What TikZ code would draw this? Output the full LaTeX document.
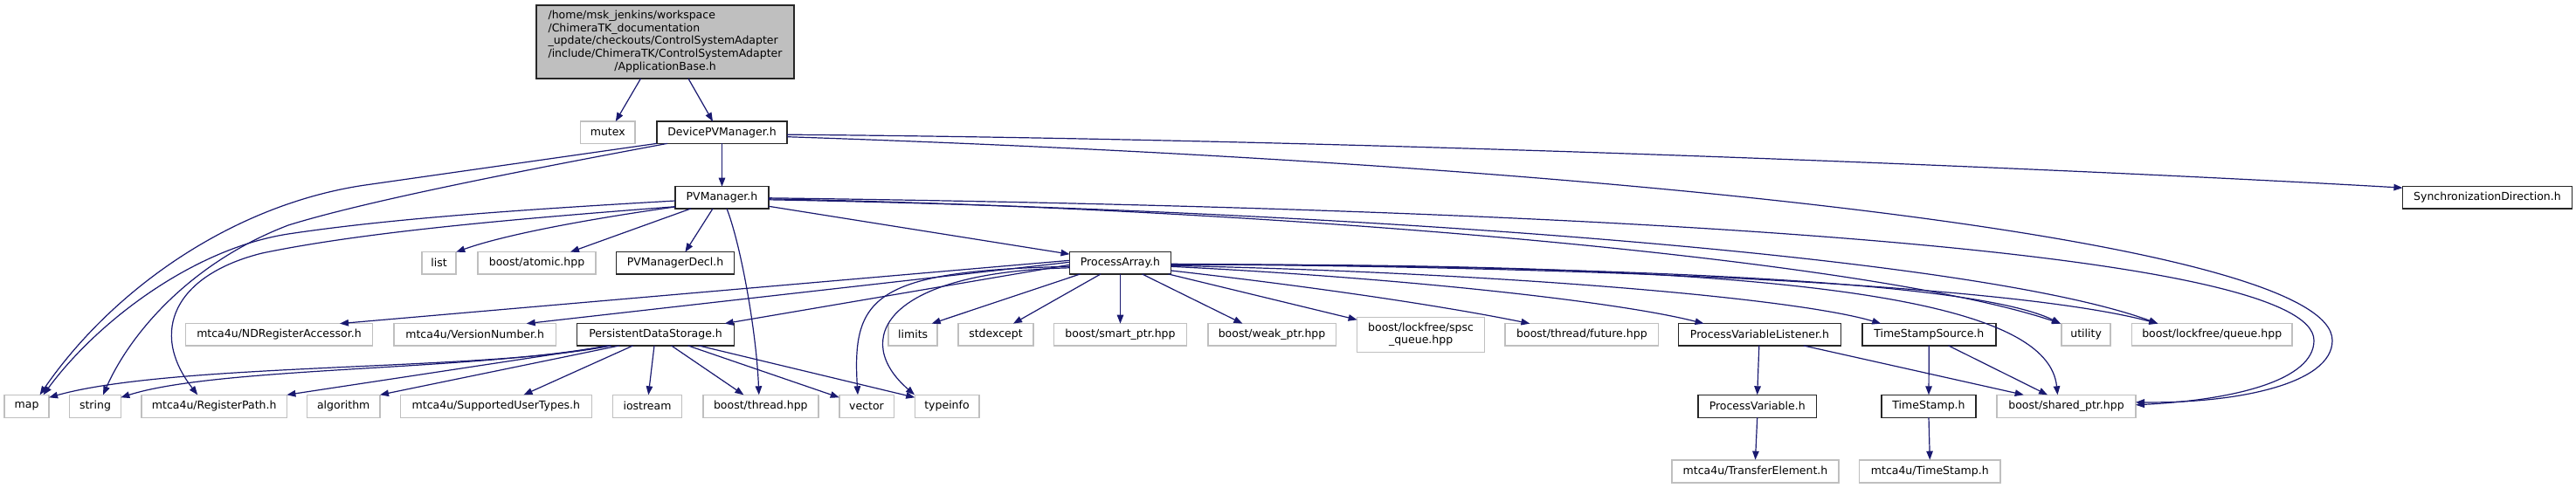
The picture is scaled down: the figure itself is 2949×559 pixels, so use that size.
\documentclass[tikz,border=0pt]{standalone}
\usepackage{fontspec}
\setmainfont{DejaVu Sans}
\usetikzlibrary{arrows.meta}
\definecolor{edgeblue}{HTML}{191970}
\definecolor{graybd}{HTML}{BFBFBF}
\definecolor{mainfill}{HTML}{BFBFBF}
\tikzset{
  every node/.style={font=\fontsize{12.5}{14.8}\selectfont},
  gbox/.style={draw=graybd, line width=1.6pt, fill=white, inner sep=0pt, outer sep=0pt, rectangle},
  bbox/.style={draw=black!85, line width=1.5pt, fill=white, inner sep=0pt, outer sep=0pt, rectangle},
  mainbox/.style={draw=black!85, line width=1.5pt, fill=mainfill, inner sep=0pt, outer sep=0pt, rectangle},
  hA/.style={minimum height=25.3pt},
  hB/.style={minimum height=26pt},
  conn/.style={draw=edgeblue, line width=1.2pt, -{Triangle[length=10pt,width=7.5pt]}},
}
\begin{document}
\begin{tikzpicture}[x=1pt,y=-1pt]
\fill[white] (0,0) rectangle (2949,559);
\useasboundingbox (0,0) rectangle (2949,559);

% ---------- nodes ----------
\node[mainbox, minimum width=295pt, minimum height=84pt] (main) at (761.5,48)
  {\begin{tabular}{@{}l@{}}/home/msk\_jenkins/workspace\\/ChimeraTK\_documentation\\\_update/checkouts/ControlSystemAdapter\\/include/ChimeraTK/ControlSystemAdapter\\\multicolumn{1}{@{}c@{}}{/ApplicationBase.h}\end{tabular}};

\node[gbox, hA, minimum width=62.5pt] (mutex) at (695.8,151.7) {mutex};
\node[bbox, hA, minimum width=149pt] (dpv) at (826.5,151.7) {DevicePVManager.h};
\node[bbox, hA, minimum width=107pt] (pvm) at (826.5,226.3) {PVManager.h};
\node[bbox, hA, minimum width=194pt] (sync) at (2847.4,226.3) {SynchronizationDirection.h};

\node[gbox, hA, minimum width=39.5pt] (list) at (502.5,301.3) {list};
\node[gbox, hA, minimum width=134.6pt] (atomic) at (614.5,301.3) {boost/atomic.hpp};
\node[bbox, hA, minimum width=135.2pt] (pvmdecl) at (773,301.3) {PVManagerDecl.h};
\node[bbox, hA, minimum width=116pt] (pa) at (1282.5,301.3) {ProcessArray.h};

\node[gbox, hA, minimum width=214.3pt] (nda) at (319.5,383.3) {mtca4u/NDRegisterAccessor.h};
\node[gbox, hA, minimum width=185.6pt] (vnum) at (543.7,383.3) {mtca4u/VersionNumber.h};
\node[bbox, hA, minimum width=180pt] (pds) at (750.6,383.3) {PersistentDataStorage.h};
\node[gbox, hA, minimum width=56pt] (limits) at (1045.2,383.3) {limits};
\node[gbox, hA, minimum width=86pt] (stdexcept) at (1140,383.3) {stdexcept};
\node[gbox, hA, minimum width=151.8pt] (smartptr) at (1282.5,383.3) {boost/smart\_ptr.hpp};
\node[gbox, hA, minimum width=146.6pt] (weakptr) at (1456,383.3) {boost/weak\_ptr.hpp};
\node[gbox, minimum height=40pt, minimum width=146pt, align=center] (spsc) at (1626.6,383.3) {boost/lockfree/spsc\\\_queue.hpp};
\node[gbox, hA, minimum width=175.4pt] (future) at (1810.9,383.3) {boost/thread/future.hpp};
\node[bbox, hA, minimum width=186pt] (pvl) at (2014.5,383.3) {ProcessVariableListener.h};
\node[bbox, hA, minimum width=153pt] (tss) at (2208.3,383.3) {TimeStampSource.h};
\node[gbox, hA, minimum width=56.2pt] (utility) at (2388.1,383.3) {utility};
\node[gbox, hA, minimum width=183.7pt] (lfqueue) at (2532.2,383.3) {boost/lockfree/queue.hpp};

\node[gbox, hB, minimum width=51pt] (map) at (30.6,465.3) {map};
\node[gbox, hB, minimum width=58.7pt] (string) at (109,465.3) {string};
\node[gbox, hB, minimum width=166.4pt] (regpath) at (245.2,465.3) {mtca4u/RegisterPath.h};
\node[gbox, hB, minimum width=83.6pt] (algorithm) at (393.2,465.3) {algorithm};
\node[gbox, hB, minimum width=218.8pt] (sut) at (567.9,465.3) {mtca4u/SupportedUserTypes.h};
\node[gbox, hB, minimum width=79pt] (iostream) at (741,465.3) {iostream};
\node[gbox, hB, minimum width=132pt] (thread) at (870.8,465.3) {boost/thread.hpp};
\node[gbox, hB, minimum width=62.6pt] (vector) at (992,465.3) {vector};
\node[gbox, hB, minimum width=73.4pt] (typeinfo) at (1084,465.3) {typeinfo};
\node[bbox, hB, minimum width=135.6pt] (pv) at (2011.7,465.3) {ProcessVariable.h};
\node[bbox, hB, minimum width=108pt] (ts) at (2208,465.3) {TimeStamp.h};
\node[gbox, hB, minimum width=159pt] (sharedptr) at (2365.5,465.3) {boost/shared\_ptr.hpp};

\node[gbox, hB, minimum width=191pt] (transfer) at (2009.5,539.7) {mtca4u/TransferElement.h};
\node[gbox, hB, minimum width=161.4pt] (mts) at (2209.3,539.7) {mtca4u/TimeStamp.h};

% ---------- edges ----------
\draw[conn] ([xshift=-28pt]main.south) -- ([xshift=9pt]mutex.north);
\draw[conn] ([xshift=26.5pt]main.south) -- ([xshift=-10.5pt]dpv.north);

% DevicePVManager.h
\draw[conn] (dpv.south) -- (pvm.north);
\draw[conn] (dpv.south west) -- (418,212) .. controls (268,234) and (130,330) .. ([xshift=15pt]map.north);
\draw[conn] ([xshift=12pt]dpv.south west) .. controls (600,195) and (420,230) .. (330,258) .. controls (220,300) and (150,380) .. ([xshift=9pt]string.north);
\draw[conn] ([yshift=-2.5pt]dpv.east) .. controls (1600,160) and (2400,195) .. ([yshift=-1.5pt]sync.north west);
\draw[conn] ([yshift=-5pt]dpv.east) .. controls (1900,190) and (2670,280) .. (2670,390) .. controls (2670,440) and (2560,462) .. ([yshift=4.5pt]sharedptr.east);

% PVManager.h
\draw[conn] ([yshift=-3.7pt]pvm.west) .. controls (600,240) and (450,250) .. (330,268) .. controls (220,285) and (110,370) .. ([xshift=19pt]map.north);
\draw[conn] ([yshift=-10.4pt]pvm.west) .. controls (600,250) and (420,265) .. (300,290) .. controls (200,315) and (170,380) .. ([xshift=-19pt]regpath.north);
\draw[conn] ([yshift=2pt]pvm.south west) .. controls (680,250) and (580,268) .. (list.north east);
\draw[conn] ([xshift=-35.5pt]pvm.south) -- ([xshift=38.5pt]atomic.north);
\draw[conn] ([xshift=-10.5pt]pvm.south) -- ([xshift=11.4pt]pvmdecl.north);
\draw[conn] ([xshift=5.5pt]pvm.south) .. controls (848,280) and (866,380) .. ([xshift=-2pt]thread.north);
\draw[conn] ([yshift=-10pt]pvm.east) -- ([yshift=-2.5pt]pa.north west);
\draw[conn] ([yshift=-1.5pt]pvm.east) .. controls (1500,240) and (2150,300) .. ([xshift=-1pt]utility.north west);
\draw[conn] ([yshift=-2.5pt]pvm.east) .. controls (1500,240) and (2250,290) .. ([xshift=30pt]lfqueue.north west);
\draw[conn] ([yshift=-0.5pt]pvm.east) .. controls (1900,240) and (2649,290) .. (2649,390) .. controls (2649,435) and (2560,458) .. ([yshift=1.5pt]sharedptr.east);

% ProcessArray.h
\draw[conn] ([yshift=3pt]pa.west) -- ([xshift=69.5pt]nda.north);
\draw[conn] ([yshift=1pt]pa.west) -- ([xshift=59pt]vnum.north);
\draw[conn] ([yshift=-2pt]pa.west) -- ([xshift=-11pt]pds.north east);
\draw[conn] ([yshift=-4pt]pa.west) .. controls (1000,310) and (975,340) .. ([xshift=-10pt]vector.north);
\draw[conn] ([yshift=-5.5pt]pa.west) .. controls (1010,312) and (975,390) .. ([xshift=-37pt]typeinfo.north);
\draw[conn] ([xshift=-46pt]pa.south) -- ([xshift=21.5pt]limits.north);
\draw[conn] ([xshift=-22.5pt]pa.south) -- ([xshift=20pt]stdexcept.north);
\draw[conn] (pa.south) -- (smartptr.north);
\draw[conn] ([xshift=25pt]pa.south) -- ([xshift=-33.6pt]weakptr.north);
\draw[conn] ([xshift=-3pt]pa.south east) -- ([yshift=-3pt]spsc.north west);
\draw[conn] ([yshift=4pt]pa.south east) .. controls (1500,328) and (1650,350) .. ([xshift=-59.5pt]future.north);
\draw[conn] ([yshift=-4pt]pa.east) .. controls (1600,318) and (1850,345) .. ([xshift=-64pt]pvl.north);
\draw[conn] ([yshift=-3pt]pa.east) .. controls (1700,312) and (2050,340) .. ([xshift=-55pt]tss.north);
\draw[conn] ([yshift=-1pt]pa.east) .. controls (1800,305) and (2250,318) .. ([xshift=-1pt]utility.north west);
\draw[conn] ([yshift=-1.5pt]pa.east) .. controls (1800,305) and (2300,325) .. ([xshift=30pt]lfqueue.north west);
\draw[conn] ([yshift=-2pt]pa.east) .. controls (2100,300) and (2345,350) .. ([xshift=-10pt]sharedptr.north);

% PersistentDataStorage.h
\draw[conn] ([xshift=-51.6pt]pds.south) .. controls (560,425) and (200,415) .. ([yshift=10pt]map.east);
\draw[conn] ([xshift=-54.6pt]pds.south) .. controls (540,425) and (250,420) .. ([yshift=10pt]string.east);
\draw[conn] ([xshift=-51pt]pds.south) -- (regpath.north east);
\draw[conn] ([xshift=-41.6pt]pds.south) -- (algorithm.north east);
\draw[conn] ([xshift=-26pt]pds.south) -- ([xshift=31.6pt]sut.north);
\draw[conn] ([xshift=-1.6pt]pds.south) -- ([xshift=1.3pt]iostream.north);
\draw[conn] ([xshift=18pt]pds.south) -- ([xshift=-19.4pt]thread.north);
\draw[conn] ([xshift=37pt]pds.south) -- ([yshift=-3pt]vector.north west);
\draw[conn] ([xshift=49.4pt]pds.south) -- ([yshift=-3pt]typeinfo.north west);

% lower part
\draw[conn] ([xshift=-0.7pt]pvl.south) -- (pv.north);
\draw[conn] ([xshift=50.3pt]pvl.south) -- ([xshift=-48.8pt]sharedptr.north);
\draw[conn] (tss.south) -- (ts.north);
\draw[conn] ([xshift=22.3pt]tss.south) -- ([xshift=-21.5pt]sharedptr.north);
\draw[conn] (pv.south) -- (transfer.north);
\draw[conn] (ts.south) -- (mts.north);
\end{tikzpicture}
\end{document}
